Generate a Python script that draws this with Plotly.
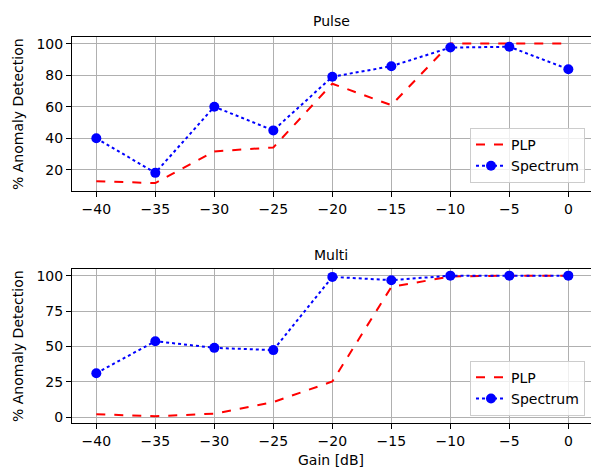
import plotly.graph_objects as go
from plotly.subplots import make_subplots

# gain values on the x axis
gain_db = [-40, -35, -30, -25, -20, -15, -10, -5, 0]
x_tick_vals = [-40, -35, -30, -25, -20, -15, -10, -5, 0]
x_tick_text = ["\u221240", "\u221235", "\u221230", "\u221225", "\u221220",
               "\u221215", "\u221210", "\u22125", "0"]

# Pulse panel
pulse_plp = [12.8, 11.6, 31.7, 34.2, 74.6, 61.0, 100, 100, 100]
pulse_spectrum = [40.0, 18.1, 60.0, 45.0, 79.0, 85.7, 97.5, 98.0, 83.8]
pulse_yticks = [20, 40, 60, 80, 100]

# Multi panel
multi_plp = [2.1, 0.7, 2.5, 10.7, 25.2, 92.0, 99.4, 100, 100]
multi_spectrum = [31.1, 53.7, 49.0, 47.4, 99.1, 96.8, 100, 100, 100]
multi_yticks = [0, 25, 50, 75, 100]

W, H = 591, 469
FONT = "DejaVu Sans, Arial, sans-serif"

fig = make_subplots(rows=2, cols=1)

panels = [
    (1, pulse_plp, pulse_spectrum, "legend"),
    (2, multi_plp, multi_spectrum, "legend2"),
]
for row, plp, spec, leg in panels:
    fig.add_trace(go.Scatter(
        x=gain_db, y=plp, name="PLP", mode="lines",
        line=dict(color="#ff0000", dash="dash", width=2),
        legend=leg,
    ), row=row, col=1)
    fig.add_trace(go.Scatter(
        x=gain_db, y=spec, name="Spectrum", mode="lines+markers",
        line=dict(color="#0000ff", dash="dot", width=2),
        marker=dict(color="#0000ff", size=10),
        legend=leg,
    ), row=row, col=1)

axis_common = dict(
    showgrid=True, gridcolor="#b0b0b0", gridwidth=1,
    ticks="outside", ticklen=5, tickwidth=1, tickcolor="black",
    showline=True, linecolor="black", linewidth=1,
    zeroline=False, automargin=False,
    tickfont=dict(family=FONT, size=14, color="black"),
)

for ax in ["xaxis", "xaxis2"]:
    fig.update_layout({ax: dict(
        axis_common, range=[-42.06, 1.92], mirror=True,
        domain=[72 / W, 1.0],
        tickvals=x_tick_vals, ticktext=x_tick_text,
    )})

fig.update_layout(
    yaxis=dict(axis_common, range=[6.6, 104.0], tickvals=pulse_yticks,
               domain=[1 - 191 / H, 1 - 37.3 / H]),
    yaxis2=dict(axis_common, range=[-4.3, 104.9], tickvals=multi_yticks,
                domain=[1 - 423.3 / H, 1 - 268.7 / H]),
)


def label(text, px_x, px_y, angle=0):
    # place a text by its centre, in pixels from the top-left corner
    return dict(text=text, x=px_x / W, y=1 - px_y / H,
                xref="paper", yref="paper", xanchor="center",
                yanchor="middle", showarrow=False, textangle=angle,
                font=dict(family=FONT, size=14, color="black"))


legend_style = dict(
    xanchor="right", yanchor="bottom",
    bgcolor="rgba(255,255,255,0.8)", bordercolor="#cccccc", borderwidth=1,
    font=dict(family=FONT, size=14), tracegroupgap=0,
)

fig.update_layout(
    width=W, height=H,
    margin=dict(l=0, r=0, t=0, b=0),
    plot_bgcolor="white", paper_bgcolor="white",
    font=dict(family=FONT, size=14, color="black"),
    legend=dict(legend_style, x=585 / W, y=1 - 183 / H),
    legend2=dict(legend_style, x=585 / W, y=1 - 415.7 / H),
    annotations=[
        label("Pulse", 331, 21),
        label("Multi", 331, 255),
        label("% Anomaly Detection", 18, 114, -90),
        label("% Anomaly Detection", 18, 346, -90),
        label("Gain [dB]", 331, 460),
    ],
)

# the page body keeps its default 8px margin otherwise
fig.write_html("out.html", config={"displayModeBar": False},
               post_script="document.body.style.margin = '0';")
